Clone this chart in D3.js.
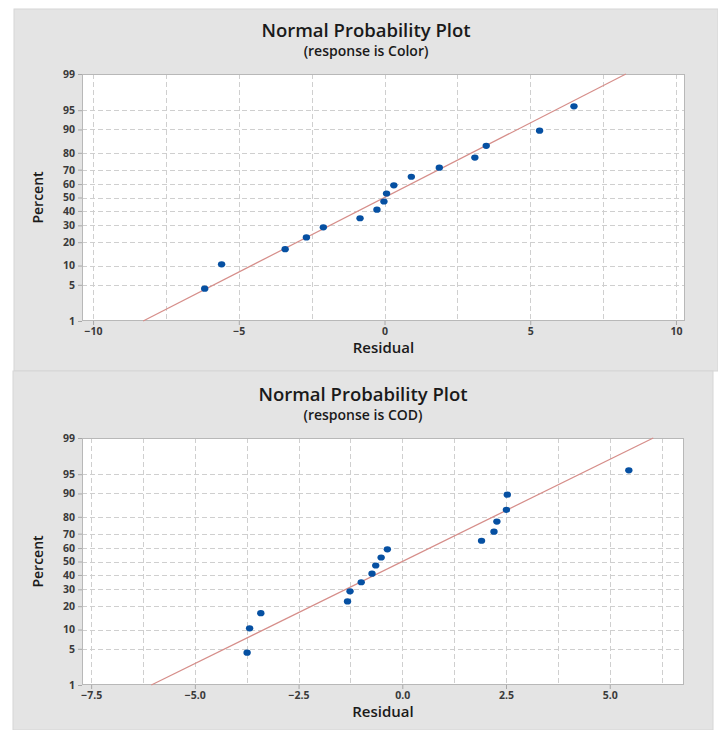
<!DOCTYPE html>
<html>
<head>
<meta charset="utf-8">
<script src="https://cdn.jsdelivr.net/npm/d3@7"></script>
<style>
  html, body { margin: 0; padding: 0; background: #fff; }
  svg { display: block; }
</style>
</head>
<body>
<svg id="chart" width="718" height="730"></svg>
<script>
// response is Color
const colorResidual = [-6.17, -5.59, -3.41, -2.68, -2.10, -0.84, -0.26, -0.02, 0.07, 0.32, 0.92, 1.88, 3.10, 3.49, 5.32, 6.50];
const colorPercent = [4.3, 10.4, 16.5, 22.6, 28.7, 34.8, 40.9, 47.0, 53.0, 59.1, 65.2, 71.3, 77.4, 83.5, 89.6, 95.7];
const colorFit = { mean: 0, sd: 3.56 };
const colorXTicks = [-10, -5, 0, 5, 10];

// response is COD
const codResidual = [-3.74, -3.68, -3.41, -1.32, -1.26, -0.99, -0.73, -0.64, -0.51, -0.36, 1.91, 2.21, 2.28, 2.51, 2.53, 5.46];
const codPercent = [4.3, 10.4, 16.5, 22.6, 28.7, 34.8, 40.9, 47.0, 53.0, 59.1, 65.2, 71.3, 77.4, 83.5, 89.6, 95.7];
const codFit = { mean: 0, sd: 2.60 };
const codXTicks = [-7.5, -5.0, -2.5, 0.0, 2.5, 5.0];

const percentTicks = [1, 5, 10, 20, 30, 40, 50, 60, 70, 80, 90, 95, 99];

// inverse normal cdf (Acklam), used for the probability axis
function probit(p) {
  const a = [-39.69683028665376, 220.9460984245205, -275.9285104469687, 138.3577518672690, -30.66479806614716, 2.506628277459239];
  const b = [-54.47609879822406, 161.5858368580409, -155.6989798598866, 66.80131188771972, -13.28068155288572];
  const c = [-0.007784894002430293, -0.3223964580411365, -2.400758277161838, -2.549732539343734, 4.374664141464968, 2.938163982698783];
  const d = [0.007784695709041462, 0.3224671290700398, 2.445134137142996, 3.754408661907416];
  const lo = 0.02425;
  let q, r;
  if (p < lo) {
    q = Math.sqrt(-2 * Math.log(p));
    return (((((c[0] * q + c[1]) * q + c[2]) * q + c[3]) * q + c[4]) * q + c[5]) /
      ((((d[0] * q + d[1]) * q + d[2]) * q + d[3]) * q + 1);
  }
  if (p > 1 - lo) {
    q = Math.sqrt(-2 * Math.log(1 - p));
    return -(((((c[0] * q + c[1]) * q + c[2]) * q + c[3]) * q + c[4]) * q + c[5]) /
      ((((d[0] * q + d[1]) * q + d[2]) * q + d[3]) * q + 1);
  }
  q = p - 0.5;
  r = q * q;
  return (((((a[0] * r + a[1]) * r + a[2]) * r + a[3]) * r + a[4]) * r + a[5]) * q /
    (((((b[0] * r + b[1]) * r + b[2]) * r + b[3]) * r + b[4]) * r + 1);
}

const svg = d3.select('#chart');
const font = "'Open Sans', 'DejaVu Sans', sans-serif";

function drawPanel(cfg) {
  const g = svg.append('g');

  // gray background panel
  g.append('rect')
    .attr('x', cfg.panel[0]).attr('y', cfg.panel[1])
    .attr('width', cfg.panel[2]).attr('height', cfg.panel[3])
    .attr('fill', '#e4e4e4')
    .attr('stroke', '#d6d6d6');

  const x = d3.scaleLinear().domain(cfg.xDomain).range([cfg.left, cfg.right]);
  const y = d3.scaleLinear()
    .domain([probit(0.01), probit(0.99)])
    .range([cfg.bottom, cfg.top]);
  const yp = (pct) => y(probit(pct / 100));

  g.append('rect')
    .attr('x', cfg.left).attr('y', cfg.top)
    .attr('width', cfg.right - cfg.left).attr('height', cfg.bottom - cfg.top)
    .attr('fill', '#fff');

  // grid
  const grid = g.append('g')
    .attr('stroke', '#cfcfcf')
    .attr('stroke-width', 1)
    .attr('stroke-dasharray', '5,3');
  grid.selectAll('line.gy')
    .data(percentTicks.slice(1, -1))
    .join('line')
    .attr('class', 'gy')
    .attr('x1', cfg.left).attr('x2', cfg.right)
    .attr('y1', (d) => Math.round(yp(d)) + 0.5)
    .attr('y2', (d) => Math.round(yp(d)) + 0.5);
  grid.selectAll('line.gx')
    .data(cfg.xGrid)
    .join('line')
    .attr('class', 'gx')
    .attr('y1', cfg.top).attr('y2', cfg.bottom)
    .attr('x1', (d) => Math.round(x(d)) + 0.5)
    .attr('x2', (d) => Math.round(x(d)) + 0.5);

  // axes
  const yAx = g.append('g')
    .attr('transform', `translate(${cfg.left},0)`)
    .call(d3.axisLeft(y)
      .tickValues(percentTicks.map((p) => probit(p / 100)))
      .tickFormat((d, i) => percentTicks[i])
      .tickSize(4)
      .tickPadding(3));
  const xAx = g.append('g')
    .attr('transform', `translate(0,${cfg.bottom})`)
    .call(d3.axisBottom(x)
      .tickValues(cfg.xTicks)
      .tickFormat(cfg.xFormat)
      .tickSize(4)
      .tickPadding(3));
  [yAx, xAx].forEach((ax) => {
    ax.select('.domain').remove();
    ax.selectAll('.tick line').attr('stroke', '#a8a8a8');
    ax.selectAll('.tick text')
      .attr('fill', '#3a3a3a')
      .style('font-family', font)
      .style('font-size', '10.5px')
      .style('font-weight', '700');
  });

  // frame
  g.append('rect')
    .attr('x', cfg.left + 0.5).attr('y', cfg.top + 0.5)
    .attr('width', cfg.right - cfg.left - 1).attr('height', cfg.bottom - cfg.top - 1)
    .attr('fill', 'none')
    .attr('stroke', '#b8b8b8');

  // fitted line, 1% to 99%
  const fitPct = [1, 99];
  g.append('path')
    .datum(fitPct)
    .attr('fill', 'none')
    .attr('stroke', '#d68e8a')
    .attr('stroke-width', 1.2)
    .attr('d', d3.line()
      .x((p) => x(cfg.fit.mean + cfg.fit.sd * probit(p / 100)))
      .y((p) => yp(p)));

  // points
  g.selectAll('ellipse.pt')
    .data(cfg.residual)
    .join('ellipse')
    .attr('class', 'pt')
    .attr('cx', (d) => x(d))
    .attr('cy', (d, i) => yp(cfg.percent[i]))
    .attr('rx', 3.7)
    .attr('ry', 3.1)
    .attr('fill', '#0650a2');

  // titles
  const cx = cfg.panel[0] + cfg.panel[2] / 2;
  g.append('text')
    .attr('x', cx).attr('y', cfg.titleY)
    .attr('text-anchor', 'middle')
    .attr('fill', '#1a1a1a')
    .style('font-family', font)
    .style('font-size', '18.5px')
    .style('font-weight', '600')
    .text('Normal Probability Plot');
  g.append('text')
    .attr('x', cx).attr('y', cfg.titleY + 19)
    .attr('text-anchor', 'middle')
    .attr('fill', '#1a1a1a')
    .style('font-family', font)
    .style('font-size', '14px')
    .style('font-weight', '600')
    .text(cfg.subtitle);
  g.append('text')
    .attr('x', (cfg.left + cfg.right) / 2).attr('y', cfg.bottom + 32)
    .attr('text-anchor', 'middle')
    .attr('fill', '#1a1a1a')
    .style('font-family', font)
    .style('font-size', '15px')
    .style('font-weight', '600')
    .text('Residual');
  g.append('text')
    .attr('transform', `translate(${cfg.left - 39},${(cfg.top + cfg.bottom) / 2}) rotate(-90)`)
    .attr('text-anchor', 'middle')
    .attr('fill', '#1a1a1a')
    .style('font-family', font)
    .style('font-size', '14px')
    .style('font-weight', '600')
    .text('Percent');
}

drawPanel({
  panel: [14, 9, 704, 362],
  left: 82, right: 685, top: 74, bottom: 321,
  xDomain: [-10.38, 10.31],
  xTicks: colorXTicks,
  xGrid: d3.range(-10, 10.01, 2.5),
  xFormat: d3.format('d'),
  residual: colorResidual,
  percent: colorPercent,
  fit: colorFit,
  titleY: 37,
  subtitle: '(response is Color)'
});

drawPanel({
  panel: [13, 371, 700, 359],
  left: 82, right: 684, top: 438, bottom: 685,
  xDomain: [-7.72, 6.79],
  xTicks: codXTicks,
  xGrid: d3.range(-7.5, 6.3, 1.25),
  xFormat: d3.format('.1f'),
  residual: codResidual,
  percent: codPercent,
  fit: codFit,
  titleY: 401,
  subtitle: '(response is COD)'
});
</script>
</body>
</html>
